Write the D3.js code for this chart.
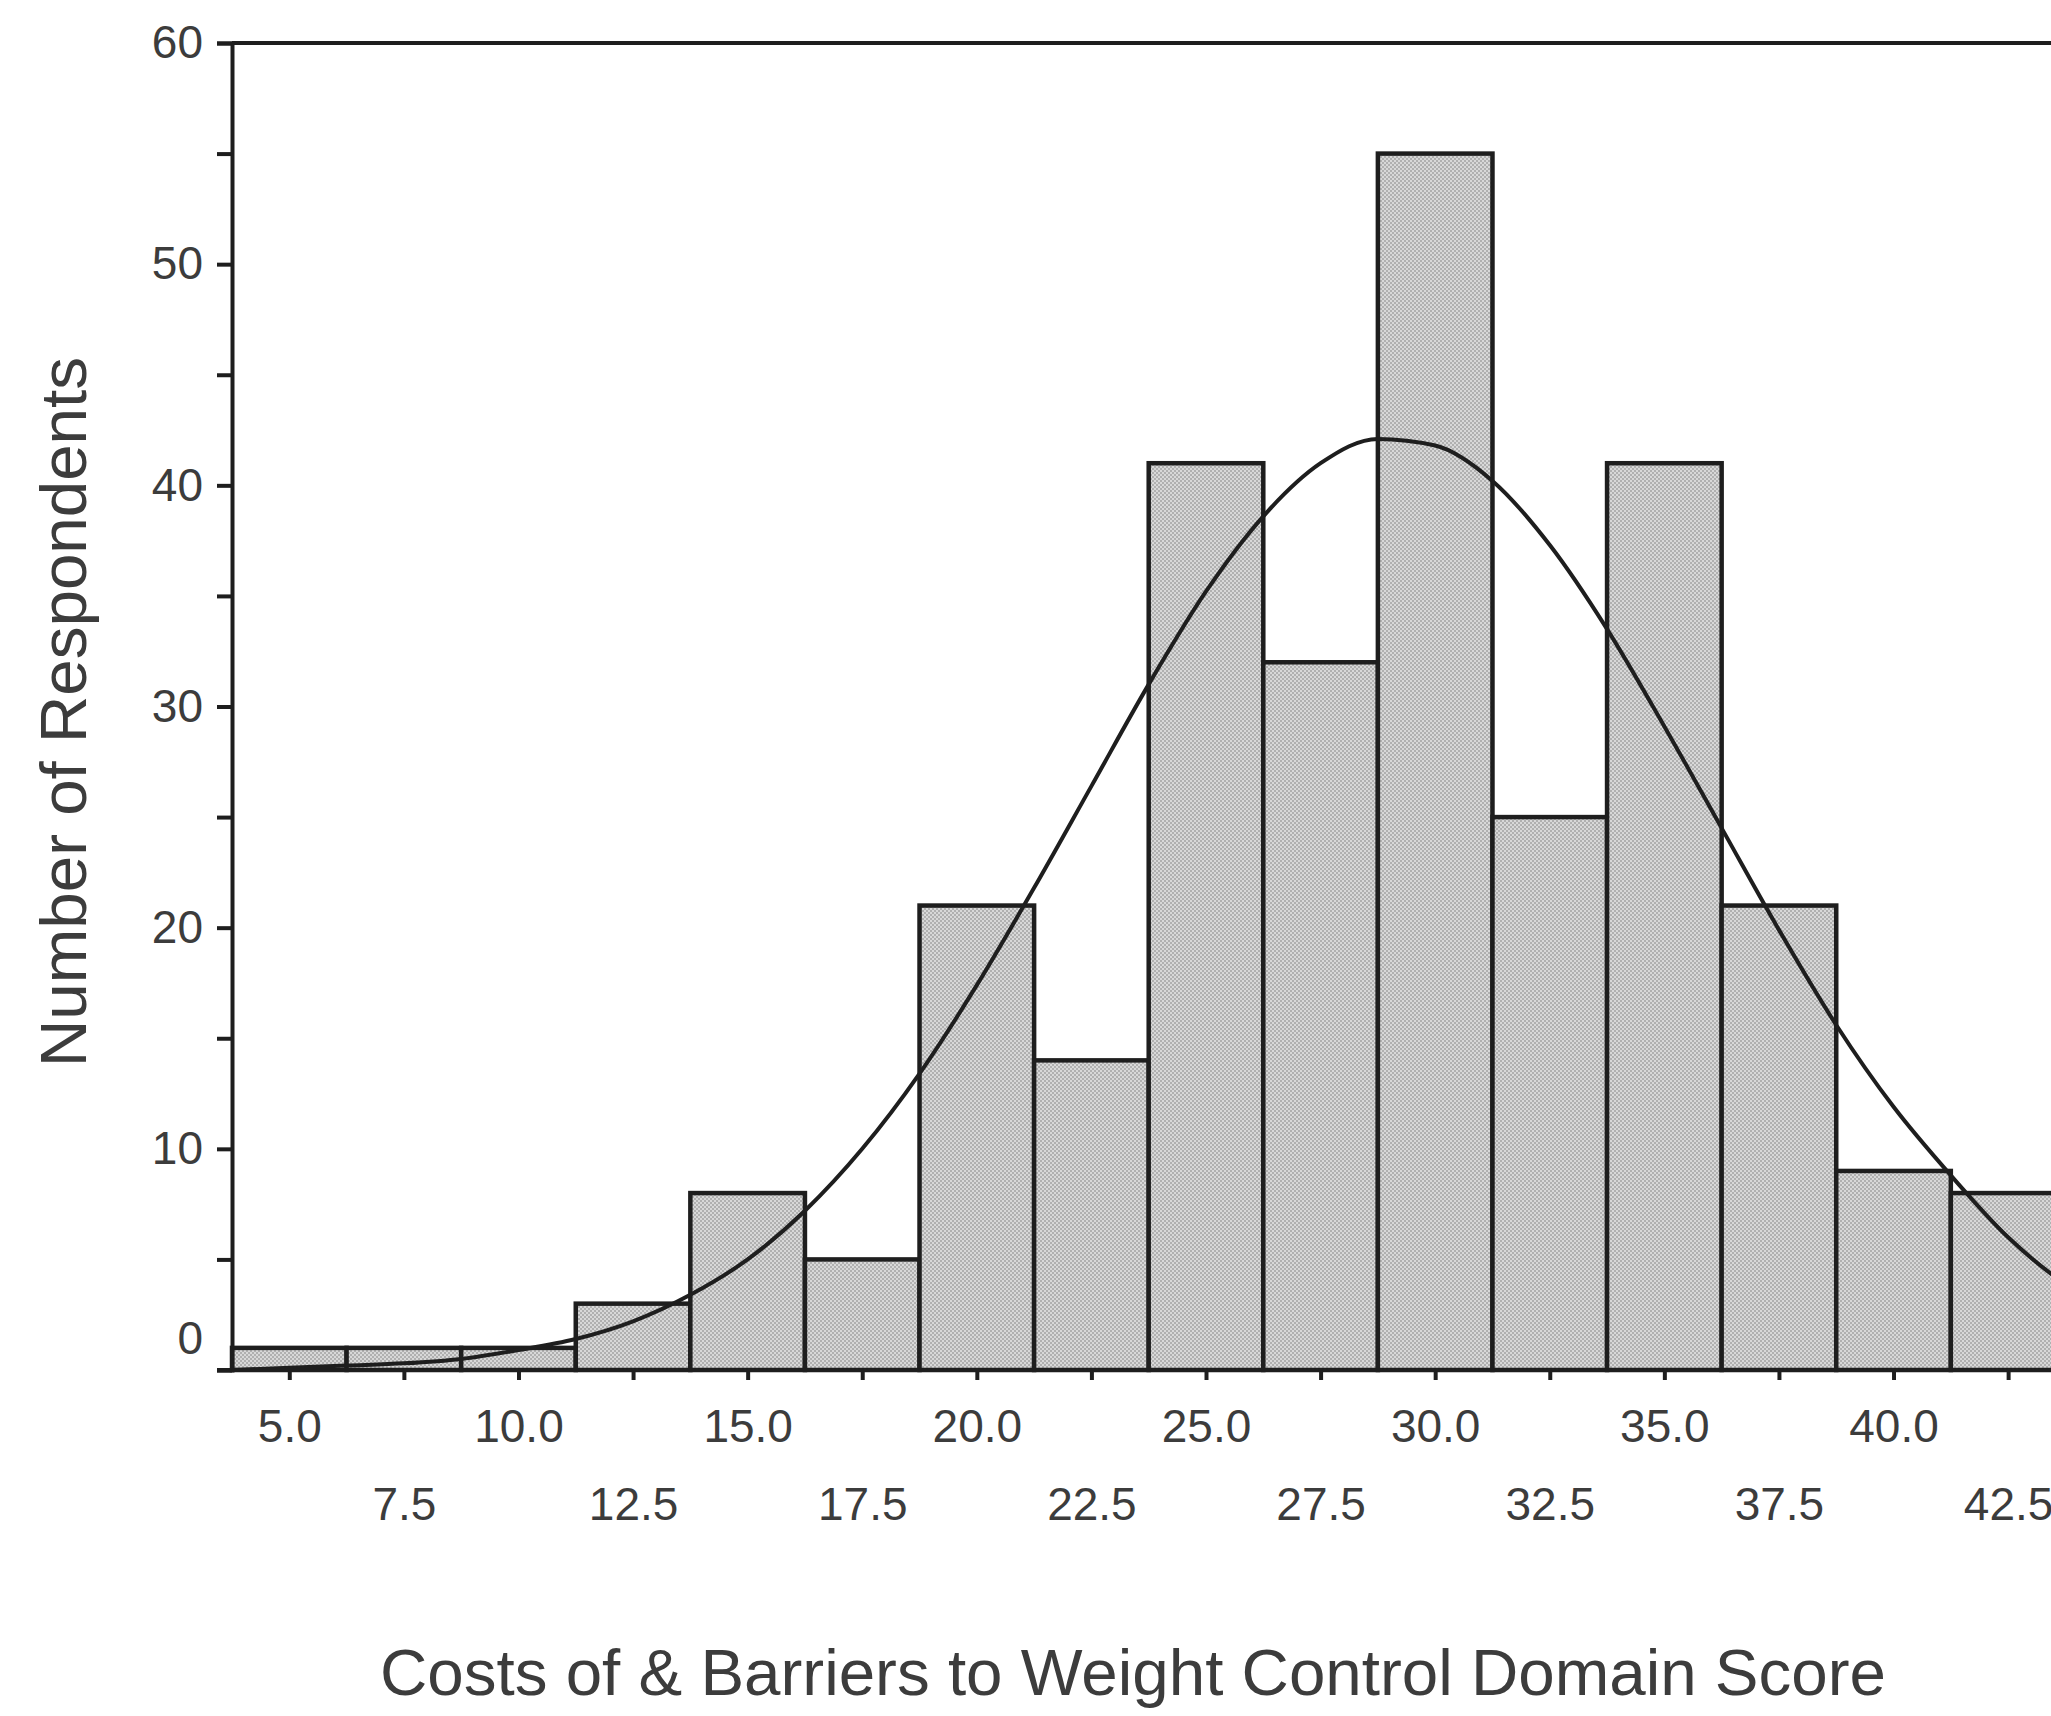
<!DOCTYPE html>
<html>
<head>
<meta charset="utf-8">
<script src="https://cdn.jsdelivr.net/npm/d3@7"></script>
<style>
  html, body { margin: 0; padding: 0; background: #fff; }
  svg { display: block; }
  text { font-family: "Liberation Sans", Arial, sans-serif; }
</style>
</head>
<body>
<svg id="chart" width="2051" height="1716"></svg>
<script>
// ---- data ----
const binCenters = [5.0, 7.5, 10.0, 12.5, 15.0, 17.5, 20.0, 22.5, 25.0, 27.5, 30.0, 32.5, 35.0, 37.5, 40.0, 42.5];
const counts     = [1,   1,   1,    3,    8,    5,    21,   14,   41,   32,   55,   25,   41,   21,   9,    8];
const binWidth = 2.5;

const xTickValues = [5.0, 7.5, 10.0, 12.5, 15.0, 17.5, 20.0, 22.5, 25.0, 27.5, 30.0, 32.5, 35.0, 37.5, 40.0, 42.5];
const xTickLabels = ["5.0", "7.5", "10.0", "12.5", "15.0", "17.5", "20.0", "22.5", "25.0", "27.5", "30.0", "32.5", "35.0", "37.5", "40.0", "42.5"];
const yTickValues = [0, 5, 10, 15, 20, 25, 30, 35, 40, 45, 50, 55, 60];
const yLabelValues = [0, 10, 20, 30, 40, 50, 60];

// normal curve
const curveX = [3.75, 5, 6.25, 7.5, 8.75, 10, 11.25, 12.5, 13.75, 15, 16.25, 17.5, 18.75, 20, 21.25, 22.5, 23.75, 25, 26.25, 27.5, 28.75, 30, 31.25, 32.5, 33.75, 35, 36.25, 37.5, 38.75, 40, 41.25, 42.5, 43.75, 45, 46.25];
const curveY = [0.0, 0.1, 0.2, 0.3, 0.5, 0.9, 1.4, 2.2, 3.4, 5.0, 7.2, 10.0, 13.4, 17.4, 21.8, 26.4, 31.0, 35.2, 38.6, 41.0, 42.1, 41.8, 40.2, 37.3, 33.5, 29.1, 24.5, 19.9, 15.6, 11.9, 8.8, 6.0, 3.9, 2.6, 1.6];

const xTitle = "Costs of & Barriers to Weight Control Domain Score";
const yTitle = "Number of Respondents";

// ---- layout ----
const svg = d3.select("#chart");
const plotLeft = 232, plotTop = 43, plotBottom = 1370, plotRight = 2180;
const x = d3.scaleLinear().domain([3.75, 46.25]).range([plotLeft, plotRight]);
const y = d3.scaleLinear().domain([0, 60]).range([plotBottom, plotTop]);

const ink = "#1e1e1e";
const textCol = "#3c3c3c";

// stipple pattern
const defs = svg.append("defs");
const pat = defs.append("pattern").attr("id", "stipple")
  .attr("patternUnits", "userSpaceOnUse").attr("width", 4).attr("height", 4);
pat.append("rect").attr("width", 4).attr("height", 4).attr("fill", "#d8d8d8");
pat.append("rect").attr("x", 0).attr("y", 0).attr("width", 2).attr("height", 2).attr("fill", "#b0b0b0");
pat.append("rect").attr("x", 2).attr("y", 2).attr("width", 2).attr("height", 2).attr("fill", "#b0b0b0");

// bars
const bars = binCenters.map((c, i) => ({c, n: counts[i]}));
svg.append("g").selectAll("rect").data(bars).join("rect")
  .attr("x", d => x(d.c - binWidth / 2))
  .attr("y", d => y(d.n))
  .attr("width", d => x(d.c + binWidth / 2) - x(d.c - binWidth / 2))
  .attr("height", d => y(0) - y(d.n))
  .attr("fill", "url(#stipple)")
  .attr("stroke", ink)
  .attr("stroke-width", 4.5);

// normal curve
const pts = curveX.map((v, i) => [v, curveY[i]]);
svg.append("path")
  .datum(pts)
  .attr("fill", "none")
  .attr("stroke", ink)
  .attr("stroke-width", 4)
  .attr("d", d3.line().x(d => x(d[0])).y(d => y(d[1])).curve(d3.curveMonotoneX));

// top frame line
svg.append("line")
  .attr("x1", plotLeft).attr("x2", plotRight)
  .attr("y1", y(60)).attr("y2", y(60))
  .attr("stroke", ink).attr("stroke-width", 4);

// y axis
const yAxis = d3.axisLeft(y)
  .tickValues(yTickValues)
  .tickSize(15)
  .tickPadding(14)
  .tickFormat(d => yLabelValues.includes(d) ? d3.format("d")(d) : "");
const gy = svg.append("g").attr("transform", `translate(${plotLeft},0)`).call(yAxis);
gy.select(".domain").attr("stroke", ink).attr("stroke-width", 4);
gy.selectAll(".tick line").attr("stroke", ink).attr("stroke-width", 4);
gy.selectAll(".tick text")
  .attr("fill", textCol)
  .style("font-size", "46px")
  .style("font-family", "'Liberation Sans', Arial, sans-serif");
// the 0 label sits slightly above the baseline in the original
gy.selectAll(".tick").filter(d => d === 0).select("text").attr("dy", "-0.35em");

// x axis
const xAxis = d3.axisBottom(x)
  .tickValues(xTickValues)
  .tickSize(10)
  .tickPadding(0)
  .tickFormat((d, i) => xTickLabels[i]);
const gx = svg.append("g").attr("transform", `translate(0,${plotBottom})`).call(xAxis);
gx.select(".domain").remove();
gx.selectAll(".tick line").attr("stroke", ink).attr("stroke-width", 4);
gx.selectAll(".tick text")
  .attr("fill", textCol)
  .style("font-size", "46px")
  .style("font-family", "'Liberation Sans', Arial, sans-serif")
  .attr("dy", null)
  .attr("y", (d, i) => i % 2 === 0 ? 72 : 150);

// x axis baseline (extends left past y axis like the original)
svg.append("line")
  .attr("x1", plotLeft - 15).attr("x2", plotRight)
  .attr("y1", plotBottom).attr("y2", plotBottom)
  .attr("stroke", ink).attr("stroke-width", 4);

// titles
svg.append("text")
  .attr("x", 1133).attr("y", 1695)
  .attr("text-anchor", "middle")
  .attr("fill", textCol)
  .style("font-size", "65.5px")
  .text(xTitle);

svg.append("text")
  .attr("transform", "translate(86,712) rotate(-90)")
  .attr("text-anchor", "middle")
  .attr("fill", textCol)
  .style("font-size", "65.5px")
  .text(yTitle);
</script>
</body>
</html>
